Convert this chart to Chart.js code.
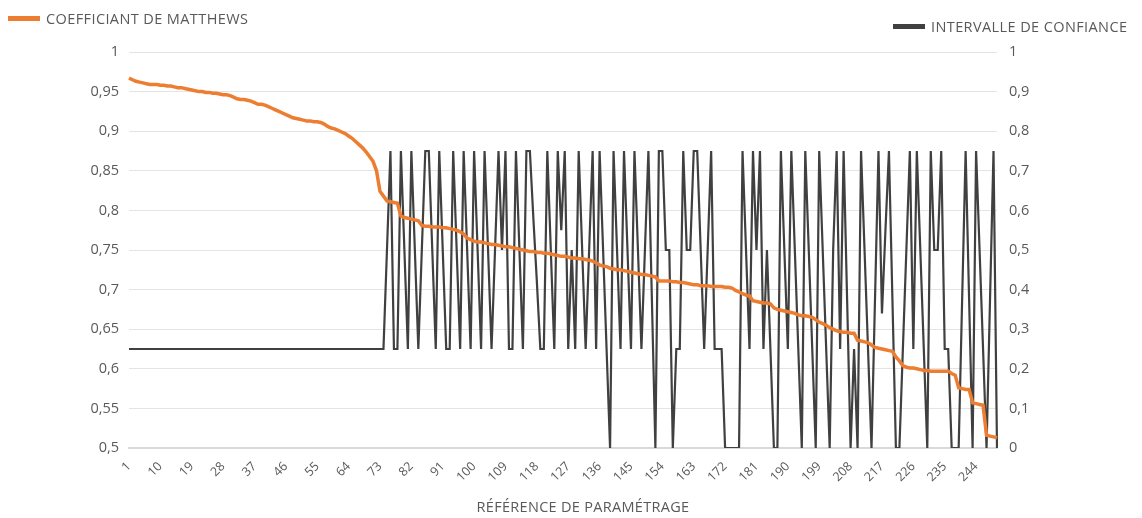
<!DOCTYPE html>
<html>
<head>
<meta charset="utf-8">
<script src="https://cdn.jsdelivr.net/npm/chart.js@4"></script>
<style>
  html, body { margin: 0; padding: 0; background: #fff; }
  #wrap { position: relative; width: 1142px; height: 518px; font-family: "Open Sans", sans-serif; color: #595959; }
  .leg { position: absolute; font-size: 14.5px; letter-spacing: 0.4px; display: flex; align-items: center; white-space: nowrap; }
  .leg span.sw { display: inline-block; width: 32px; height: 5px; margin-right: 6px; }
  #xtitle { position: absolute; left: 0; width: 1142px; top: 497px; text-align: center; font-size: 14.5px; letter-spacing: 0.3px; padding-left: 24px; box-sizing: border-box; }
</style>
</head>
<body>
<div id="wrap">
  <canvas id="chart" width="1142" height="518"></canvas>
  <div class="leg" style="left:8px; top:9px;"><span class="sw" style="background:#ed7d31"></span>COEFFICIANT DE MATTHEWS</div>
  <div class="leg" style="left:893px; top:17px;"><span class="sw" style="background:#404040"></span>INTERVALLE DE CONFIANCE</div>
  <div id="xtitle">RÉFÉRENCE DE PARAMÉTRAGE</div>
</div>
<script>
// coefficient de Matthews, references 1..250
const matthews = [
  0.967, 0.965, 0.963, 0.962, 0.961, 0.960, 0.959, 0.959, 0.959, 0.958,
  0.958, 0.957, 0.957, 0.956, 0.955, 0.955, 0.954, 0.953, 0.952, 0.951,
  0.950, 0.950, 0.949, 0.949, 0.948, 0.948, 0.947, 0.946, 0.946, 0.945,
  0.943, 0.941, 0.940, 0.940, 0.939, 0.938, 0.936, 0.934, 0.934, 0.933,
  0.931, 0.929, 0.927, 0.925, 0.923, 0.921, 0.919, 0.917, 0.916, 0.915,
  0.914, 0.913, 0.913, 0.912, 0.912, 0.911, 0.909, 0.906, 0.904, 0.903,
  0.901, 0.899, 0.897, 0.894, 0.891, 0.887, 0.883, 0.879, 0.874, 0.868,
  0.862, 0.850, 0.824, 0.818, 0.812, 0.811, 0.810, 0.809, 0.793, 0.791,
  0.790, 0.789, 0.788, 0.787, 0.781, 0.780, 0.780, 0.779, 0.779, 0.779,
  0.778, 0.778, 0.777, 0.776, 0.775, 0.773, 0.770, 0.765, 0.763, 0.761,
  0.760, 0.760, 0.759, 0.758, 0.757, 0.757, 0.756, 0.755, 0.754, 0.754,
  0.753, 0.752, 0.751, 0.750, 0.749, 0.748, 0.748, 0.747, 0.747, 0.746,
  0.746, 0.745, 0.744, 0.743, 0.742, 0.742, 0.741, 0.740, 0.740, 0.739,
  0.739, 0.738, 0.737, 0.736, 0.734, 0.731, 0.730, 0.729, 0.727, 0.726,
  0.725, 0.725, 0.724, 0.723, 0.722, 0.721, 0.720, 0.719, 0.719, 0.718,
  0.717, 0.716, 0.711, 0.711, 0.711, 0.711, 0.710, 0.710, 0.709, 0.709,
  0.708, 0.707, 0.706, 0.706, 0.705, 0.705, 0.705, 0.704, 0.704, 0.704,
  0.704, 0.703, 0.703, 0.702, 0.699, 0.697, 0.695, 0.693, 0.692, 0.686,
  0.685, 0.684, 0.683, 0.683, 0.682, 0.677, 0.675, 0.674, 0.673, 0.672,
  0.671, 0.670, 0.668, 0.667, 0.667, 0.666, 0.665, 0.662, 0.659, 0.657,
  0.655, 0.652, 0.650, 0.648, 0.647, 0.646, 0.646, 0.645, 0.645, 0.636,
  0.635, 0.634, 0.633, 0.630, 0.627, 0.626, 0.625, 0.624, 0.623, 0.622,
  0.615, 0.610, 0.604, 0.602, 0.601, 0.601, 0.600, 0.599, 0.598, 0.598,
  0.597, 0.597, 0.597, 0.597, 0.597, 0.597, 0.594, 0.592, 0.576, 0.575,
  0.574, 0.574, 0.557, 0.556, 0.555, 0.554, 0.516, 0.515, 0.514, 0.513
];

// intervalle de confiance (axe de droite)
const intervalle = [
  0.25, 0.25, 0.25, 0.25, 0.25, 0.25, 0.25, 0.25, 0.25, 0.25,
  0.25, 0.25, 0.25, 0.25, 0.25, 0.25, 0.25, 0.25, 0.25, 0.25,
  0.25, 0.25, 0.25, 0.25, 0.25, 0.25, 0.25, 0.25, 0.25, 0.25,
  0.25, 0.25, 0.25, 0.25, 0.25, 0.25, 0.25, 0.25, 0.25, 0.25,
  0.25, 0.25, 0.25, 0.25, 0.25, 0.25, 0.25, 0.25, 0.25, 0.25,
  0.25, 0.25, 0.25, 0.25, 0.25, 0.25, 0.25, 0.25, 0.25, 0.25,
  0.25, 0.25, 0.25, 0.25, 0.25, 0.25, 0.25, 0.25, 0.25, 0.25,
  0.25, 0.25, 0.25, 0.25, 0.5, 0.75, 0.25, 0.25, 0.75, 0.5,
  0.25, 0.75, 0.5, 0.25, 0.5, 0.75, 0.75, 0.5, 0.25, 0.75,
  0.5, 0.25, 0.25, 0.75, 0.5, 0.25, 0.75, 0.5, 0.25, 0.75,
  0.5, 0.25, 0.75, 0.5, 0.25, 0.5, 0.75, 0.5, 0.75, 0.25,
  0.25, 0.75, 0.5, 0.25, 0.75, 0.75, 0.58, 0.42, 0.25, 0.25,
  0.75, 0.5, 0.25, 0.75, 0.55, 0.75, 0.25, 0.5, 0.25, 0.75,
  0.5, 0.25, 0.5, 0.75, 0.25, 0.75, 0.5, 0.25, 0, 0.75,
  0.5, 0.25, 0.75, 0.5, 0.25, 0.75, 0.5, 0.25, 0.5, 0.75,
  0.375, 0, 0.75, 0.75, 0.5, 0.5, 0, 0.25, 0.25, 0.75,
  0.5, 0.5, 0.75, 0.75, 0.5, 0.25, 0.5, 0.75, 0.25, 0.25,
  0.25, 0, 0, 0, 0, 0, 0.75, 0.5, 0.25, 0.75,
  0.5, 0.75, 0.25, 0.5, 0.25, 0, 0, 0.75, 0.5, 0.25,
  0.75, 0.5, 0.25, 0, 0.75, 0.5, 0.25, 0, 0.75, 0.5,
  0.25, 0, 0.5, 0.75, 0.25, 0.75, 0.375, 0, 0.25, 0,
  0.75, 0.5, 0.25, 0, 0.375, 0.75, 0.34, 0.55, 0.75, 0.375,
  0, 0, 0.25, 0.5, 0.75, 0.25, 0.75, 0.5, 0.25, 0,
  0.75, 0.5, 0.5, 0.75, 0.25, 0.25, 0, 0, 0, 0.375,
  0.75, 0.375, 0, 0.75, 0.5, 0.25, 0, 0.375, 0.75, 0
];

const references = [];
for (let i = 1; i <= matthews.length; i++) references.push(String(i));

const frNum = (v) => {
  let s = (Math.round(v * 100) / 100).toString();
  return s.replace(".", ",");
};

const font = { family: "'Open Sans', sans-serif", size: 14.5 };

new Chart(document.getElementById("chart").getContext("2d"), {
  type: "line",
  data: {
    labels: references,
    datasets: [
      {
        label: "COEFFICIANT DE MATTHEWS",
        data: matthews,
        borderColor: "#ed7d31",
        borderWidth: 3.5,
        pointRadius: 0,
        tension: 0,
        yAxisID: "y",
        order: 0,
      },
      {
        label: "INTERVALLE DE CONFIANCE",
        data: intervalle,
        borderColor: "#404040",
        borderWidth: 2.2,
        pointRadius: 0,
        tension: 0,
        yAxisID: "y1",
        order: 1,
      },
    ],
  },
  options: {
    responsive: false,
    animation: false,
    layout: { padding: { top: 52, right: 0, left: 0, bottom: 0 } },
    plugins: { legend: { display: false }, tooltip: { enabled: false } },
    scales: {
      x: {
        offset: false,
        grid: { display: false },
        border: { color: "#d9d9d9", width: 2 },
        ticks: {
          autoSkip: false,
          minRotation: 45,
          maxRotation: 45,
          color: "#595959",
          font: { family: "'Open Sans', sans-serif", size: 12.5 },
          padding: 3,
          callback: function (val, idx) {
            return idx % 9 === 0 ? references[idx] : null;
          },
        },
        afterFit: (s) => { s.height = 70; },
      },
      y: {
        position: "left",
        min: 0.5,
        max: 1,
        ticks: { stepSize: 0.05, color: "#595959", font: font, padding: 10, callback: (v) => frNum(v) },
        grid: { color: "#e4e4e4", lineWidth: 1, drawTicks: false },
        border: { display: false },
        afterFit: (s) => { s.width = 129; },
      },
      y1: {
        position: "right",
        min: 0,
        max: 1,
        ticks: { stepSize: 0.1, color: "#595959", font: font, padding: 12, callback: (v) => frNum(v) },
        grid: { display: false, drawTicks: false },
        border: { display: false },
        afterFit: (s) => { s.width = 145; },
      },
    },
  },
});
</script>
</body>
</html>
